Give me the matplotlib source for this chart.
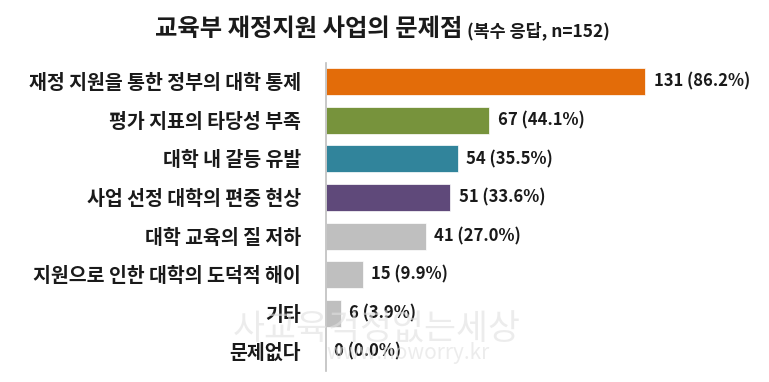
import matplotlib.pyplot as plt

plt.rcParams['font.family'] = ['Noto Sans CJK KR', 'DejaVu Sans']

categories = ['재정 지원을 통한 정부의 대학 통제', '평가 지표의 타당성 부족', '대학 내 갈등 유발',
              '사업 선정 대학의 편중 현상', '대학 교육의 질 저하', '지원으로 인한 대학의 도덕적 해이',
              '기타', '문제없다']
counts = [131, 67, 54, 51, 41, 15, 6, 0]
percents = [86.2, 44.1, 35.5, 33.6, 27.0, 9.9, 3.9, 0.0]
colors = ['#E36C09', '#77933C', '#31849B', '#5F497A', '#BFBFBF', '#BFBFBF', '#BFBFBF', '#BFBFBF']

fig = plt.figure(figsize=(7.69, 3.82), dpi=100)
ax = fig.add_axes([0.424, 0.029, 0.507, 0.807])

ypos = list(range(len(categories)))
ax.barh(ypos, counts, height=0.7, color=colors, edgecolor='white', linewidth=0.5, zorder=2)

for y, c, p in zip(ypos, counts, percents):
    ax.annotate(f'{c} ({p:.1f}%)', xy=(c, y), xytext=(6, 0), textcoords='offset points',
                va='center', ha='left', fontsize=12, fontweight='bold', color='#1a1a1a')

ax.set_xlim(0, 160)
ax.set_ylim(7.5, -0.5)
ax.set_yticks(ypos)
ax.set_yticklabels(categories, fontsize=14, fontweight='bold', color='#1a1a1a')
ax.tick_params(axis='y', length=0, pad=18)
ax.set_xticks([])
for s in ['top', 'right', 'bottom']:
    ax.spines[s].set_visible(False)
ax.spines['left'].set_color('#BFBFBF')
ax.spines['left'].set_linewidth(1.2)

fig.text(0.601, 0.906, '교육부 재정지원 사업의 문제점', ha='right', va='baseline',
         fontsize=17.5, fontweight='bold', color='#1a1a1a')
fig.text(0.607, 0.906, '(복수 응답, n=152)', ha='left', va='baseline',
         fontsize=12.5, fontweight='bold', color='#1a1a1a')

# faint watermark
fig.text(0.49, 0.135, '사교육걱정없는세상', ha='center', va='center', fontsize=25,
         color='#e0e0e0', alpha=0.6, zorder=0)
fig.text(0.53, 0.075, 'www.noworry.kr', ha='center', va='center', fontsize=15,
         color='#e0e0e0', alpha=0.6, zorder=0)

fig.savefig('out.png', dpi=100)
